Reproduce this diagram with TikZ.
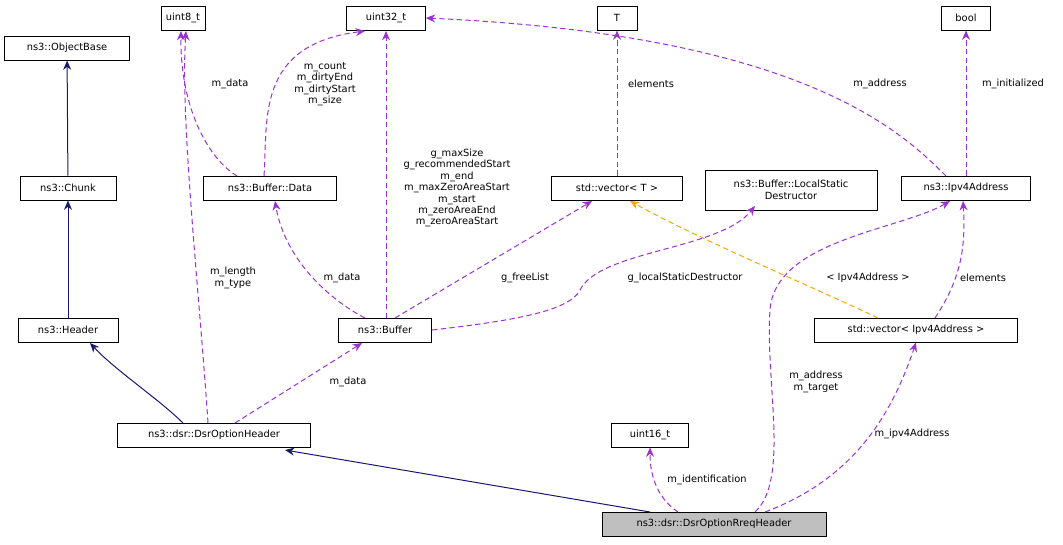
\documentclass[tikz,border=0pt]{standalone}
\usepackage{fontspec}
\setmainfont{DejaVu Sans}
\usepackage{tikz}
\usetikzlibrary{arrows.meta, positioning, calc}
\definecolor{colorMember}{HTML}{9A32CD}
\definecolor{colorInherit}{HTML}{191970}
\definecolor{colorTemplate}{HTML}{FFA500}
\tikzset{
  cls/.style={draw, fill=white, inner sep=1pt, minimum height=18pt, align=center, font=\fontsize{7.4}{8.6}\selectfont},
  lbl/.style={align=center, font=\fontsize{7.4}{8.6}\selectfont, inner sep=0.5pt},
  mem/.style={-{Stealth[length=7pt,width=6pt]}, colorMember, dashed, dash pattern=on 4pt off 2.5pt},
  inh/.style={-{Stealth[length=7pt,width=6pt]}, colorInherit},
  tpl/.style={-{Stealth[length=7pt,width=6pt]}, colorTemplate, dashed, dash pattern=on 4pt off 2.5pt},
}
\begin{document}
\begin{tikzpicture}[x=0.75pt, y=-0.75pt, line width=0.75pt]
\useasboundingbox (0,0) rectangle (1063,544);
% classes
\node[cls, minimum width=94pt] (objbase) at (67,48) {ns3::ObjectBase};
\node[cls, minimum width=33pt] (u8) at (183,18) {uint8\_t};
\node[cls, minimum width=59pt] (u32) at (386,18) {uint32\_t};
\node[cls, minimum width=30pt] (T) at (617,18) {T};
\node[cls, minimum width=37pt] (bool) at (966,18) {bool};
\node[cls, minimum width=72pt] (chunk) at (68,188) {ns3::Chunk};
\node[cls, minimum width=100pt] (bdata) at (270,188) {ns3::Buffer::Data};
\node[cls, minimum width=98pt] (vecT) at (617,188) {std::vector\textless{} T \textgreater{}};
\node[cls, minimum width=129pt, minimum height=30pt] (lsd) at (791,190) {ns3::Buffer::LocalStatic\\Destructor};
\node[cls, minimum width=97pt] (ipv4) at (966,188) {ns3::Ipv4Address};
\node[cls, minimum width=75pt] (header) at (68,330) {ns3::Header};
\node[cls, minimum width=70pt] (buffer) at (385,330) {ns3::Buffer};
\node[cls, minimum width=152pt] (vecIp) at (916,330) {std::vector\textless{} Ipv4Address \textgreater{}};
\node[cls, minimum width=145pt] (opthdr) at (214,435) {ns3::dsr::DsrOptionHeader};
\node[cls, minimum width=58pt] (u16) at (650,435) {uint16\_t};
\node[cls, minimum width=168pt, fill=black!25] (rreq) at (714,524) {ns3::dsr::DsrOptionRreqHeader};
% inheritance
\draw[inh] (chunk) -- (objbase);
\draw[inh] (header) -- (chunk);
\draw[inh] (183,423) .. controls (160,400) and (115,370) .. (90,343);
\draw[inh] (650,512) -- (285,450);
% members
\draw[mem] (208,423) .. controls (200,300) and (180,120) .. (186,31);
\node[lbl] (lenlbl) at (233,278) {m\_length\\m\_type};
\draw[mem] (237,176) .. controls (210,160) and (180,110) .. (181,31);
\node[lbl] (bdlbl) at (230,84) {m\_data};
\draw[mem] (264,176) .. controls (268,120) and (255,45) .. (365,31);
\node[lbl] (cntlbl) at (325,84) {m\_count\\m\_dirtyEnd\\m\_dirtyStart\\m\_size};
\draw[mem] (386,318) -- (386,31);
\node[lbl] (szlbl) at (457,188) {g\_maxSize\\g\_recommendedStart\\m\_end\\m\_maxZeroAreaStart\\m\_start\\m\_zeroAreaEnd\\m\_zeroAreaStart};
\draw[mem] (365,318) .. controls (330,300) and (285,260) .. (275,201);
\node[lbl] (bdlbl2) at (342,278) {m\_data};
\draw[mem] (395,318) -- (592,201);
\node[lbl] (fllbl) at (525,278) {g\_freeList};
\draw[mem] (buffer.east) .. controls (520,320) and (570,310) .. (580,290) .. controls (600,250) and (720,250) .. (755,206);
\node[lbl] (lsdlbl) at (685,278) {g\_localStaticDestructor};
\draw[mem] (235,423) -- (362,343);
\node[lbl] (odlbl) at (348,382) {m\_data};
\draw[mem] (vecT) -- (T);
\node[lbl] (ellbl) at (651,84) {elements};
\draw[mem] (946,176) .. controls (900,130) and (800,35) .. (u32.east);
\node[lbl] (adlbl) at (880,84) {m\_address};
\draw[mem] (ipv4) -- (bool);
\node[lbl] (inlbl) at (1013,84) {m\_initialized};
\draw[tpl] (878,318) .. controls (820,290) and (700,240) .. (630,201);
\node[lbl] (tplbl) at (868,278) {\textless{} Ipv4Address \textgreater{}};
\draw[mem] (935,318) .. controls (960,280) and (966,250) .. (963,201);
\node[lbl] (el2lbl) at (983,278) {elements};
\draw[mem] (755,512) .. controls (790,480) and (765,380) .. (770,310) .. controls (775,240) and (900,230) .. (950,201);
\node[lbl] (tglbl) at (816,382) {m\_address\\m\_target};
\draw[mem] (678,512) .. controls (660,500) and (650,480) .. (u16);
\node[lbl] (idlbl) at (707,480) {m\_identification};
\draw[mem] (765,512) .. controls (850,480) and (890,420) .. (vecIp.south);
\node[lbl] (iplbl) at (912,434) {m\_ipv4Address};
\end{tikzpicture}
\end{document}
